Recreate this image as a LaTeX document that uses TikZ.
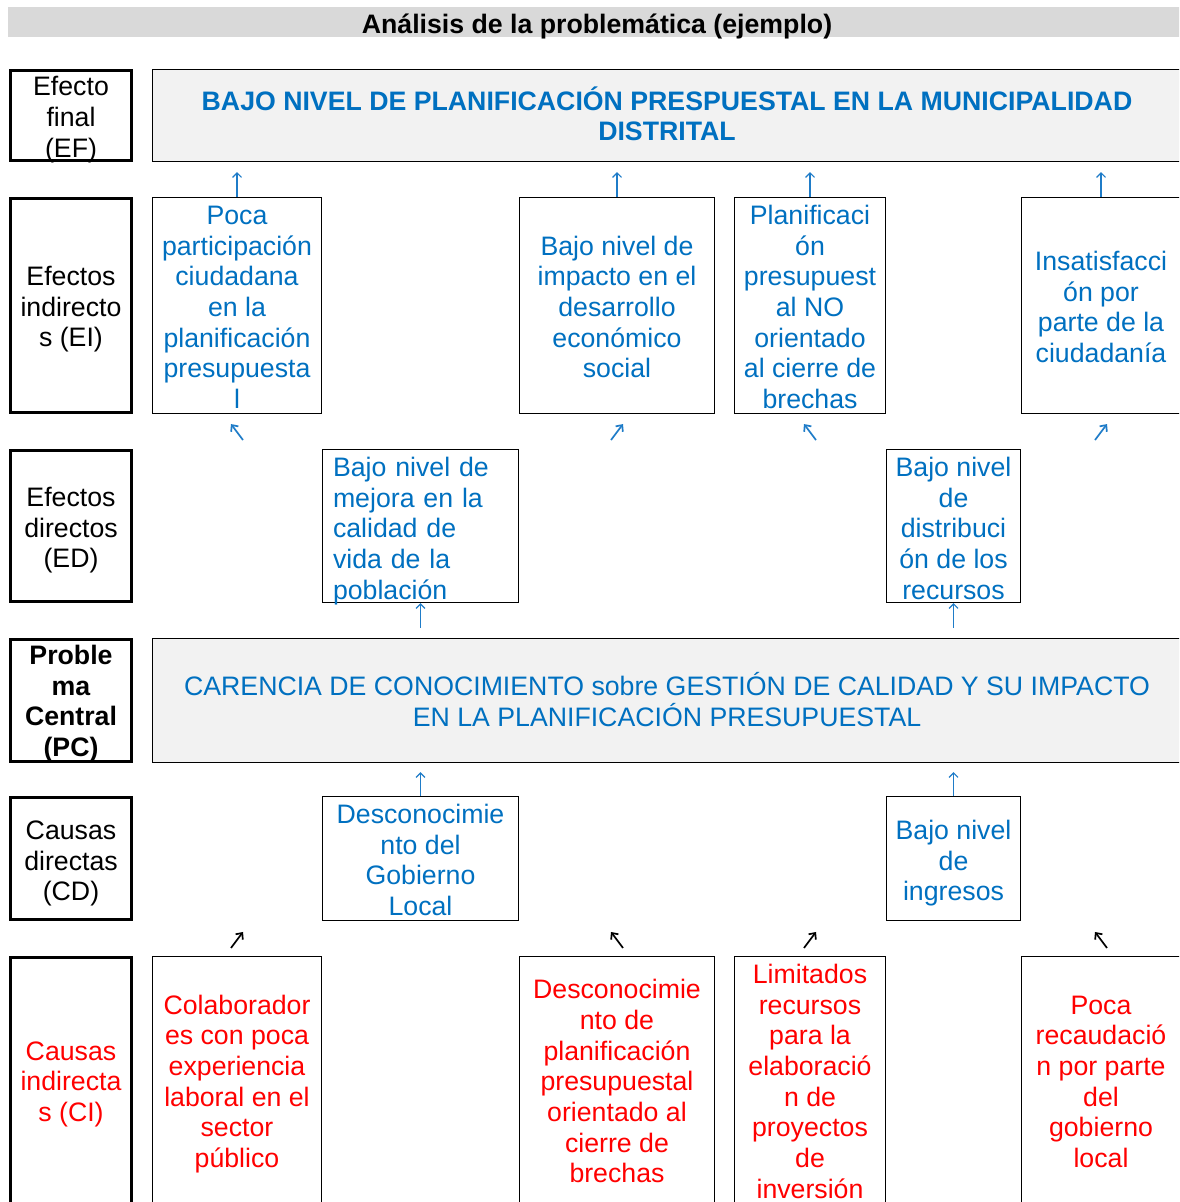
\documentclass[tikz,border=0pt]{standalone}
\usepackage{fontspec}
\setmainfont{Liberation Sans}
\usetikzlibrary{arrows.meta, positioning, calc}

\definecolor{azul}{HTML}{0070C0}
\definecolor{flecha}{HTML}{1F7CC8}
\definecolor{rojo}{HTML}{FF0000}
\definecolor{grisbar}{HTML}{D9D9D9}
\definecolor{grisbox}{HTML}{F2F2F2}

% line struts: top of first line, bottom of last line
\newcommand{\ini}[1][28pt]{\rule{0pt}{#1}}
\newcommand{\bajo}{\rule[-6pt]{0pt}{6pt}}

\begin{document}
\begin{tikzpicture}[
    x=1pt, y=-1pt,
    every node/.style={font=\fontsize{26.7}{30.7}\selectfont, align=center, inner xsep=0pt, inner ysep=-6pt},
    >={Straight Barb[length=4.5pt, width=9pt]},
    rowlabel/.style={rectangle, draw, line width=2.6pt, minimum width=121.4pt},
    box/.style={rectangle, draw, line width=1.1pt, text=azul},
    redbox/.style={box, text=rojo},
    mainbox/.style={box, fill=grisbox, minimum width=1029pt},
    titlebar/.style={rectangle, fill=grisbar, minimum width=1178pt, minimum height=30pt, font=\fontsize{26.7}{30}\selectfont\bfseries},
    uparrow/.style={->, draw=flecha, line width=1.2pt},
    diagarrow/.style={->, line width=1.7pt, >={Straight Barb[length=5pt, width=9pt]}}
]

\useasboundingbox (0,0) rectangle (1179,1202);
\clip (0,0) rectangle (1179,1202);

% Title
\node[titlebar] (titulo) at (597,22) {\ini Análisis de la problemática (ejemplo)};

% EF Section
\node[rowlabel, minimum height=90.4pt] (lef) at (71,115.5) {\ini Efecto\\final\\(EF)\bajo};
\node[mainbox, minimum height=92pt, font=\fontsize{26.7}{30.7}\selectfont\bfseries] (efmain) at (667,115.5)
  {\ini[25.7pt]BAJO NIVEL DE PLANIFICACIÓN PRESPUESTAL EN LA MUNICIPALIDAD\\DISTRITAL\bajo};

% EI Section
\node[rowlabel, minimum height=214.4pt] (lei) at (71,305.5) {\ini[27.4pt]Efectos\\indirecto\\s (EI)\bajo};
\node[box, minimum width=169pt, minimum height=216pt] (ei1) at (237,305.5)
  {\ini Poca\\participación\\ciudadana\\en la\\planificación\\presupuesta\\l\bajo};
\node[box, minimum width=195pt, minimum height=216pt] (ei2) at (617,305.5)
  {\ini Bajo nivel de\\impacto en el\\desarrollo\\económico\\social\bajo};
\node[box, minimum width=151pt, minimum height=216pt] (ei3) at (810,305.5)
  {\ini Planificaci\\ón\\presupuest\\al NO\\orientado\\al cierre de\\brechas\bajo};
\node[box, minimum width=159pt, minimum height=216pt] (ei4) at (1101,305.5)
  {\ini Insatisfacci\\ón por\\parte de la\\ciudadanía\bajo};

% ED Section
\node[rowlabel, minimum height=151.4pt] (led) at (71,526) {\ini Efectos\\directos\\(ED)\bajo};
\node[box, minimum height=153pt, text width=175pt, inner xsep=10.5pt, align=left] (ed1) at (420.5,526)
  {\ini[29.5pt]Bajo nivel de\\mejora en la\\calidad de\\vida de la\\población\bajo};
\node[box, minimum width=134pt, minimum height=153pt] (ed2) at (953.5,526)
  {\ini[29.5pt]Bajo nivel\\de\\distribuci\\ón de los\\recursos\bajo};

% PC Section
\node[rowlabel, minimum height=122.4pt, font=\fontsize{26.7}{30.7}\selectfont\bfseries] (lpc) at (71,700.5)
  {\ini[26pt]Proble\\ma\\Central\\(PC)\bajo};
\node[mainbox, minimum height=124pt] (pcmain) at (667,700.5)
  {\ini[26.7pt]CARENCIA DE CONOCIMIENTO sobre GESTIÓN DE CALIDAD Y SU IMPACTO\\EN LA PLANIFICACIÓN PRESUPUESTAL\bajo};

% CD Section
\node[rowlabel, minimum height=122.4pt] (lcd) at (71,858.5) {\ini[29pt]Causas\\directas\\(CD)\bajo};
\node[box, minimum width=196pt, minimum height=124pt] (cd1) at (420.5,858.5)
  {\ini Desconocimie\\nto del\\Gobierno\\Local\bajo};
\node[box, minimum width=134pt, minimum height=124pt] (cd2) at (953.5,858.5)
  {\ini[29pt]Bajo nivel\\de\\ingresos\bajo};

% CI Section
\node[rowlabel, minimum height=248.4pt, text=rojo] (lci) at (71,1081.5) {\ini[24.5pt]Causas\\indirecta\\s (CI)\bajo};
\node[redbox, minimum width=169pt, minimum height=250pt] (ci1) at (237,1081.5)
  {\ini[24.5pt]Colaborador\\es con poca\\experiencia\\laboral en el\\sector\\público\bajo};
\node[redbox, minimum width=195pt, minimum height=250pt] (ci2) at (617,1081.5)
  {\ini[24.5pt]Desconocimie\\nto de\\planificación\\presupuestal\\orientado al\\cierre de\\brechas\bajo};
\node[redbox, minimum width=151pt, minimum height=250pt] (ci3) at (810,1081.5)
  {\ini[24.5pt]Limitados\\recursos\\para la\\elaboració\\n de\\proyectos\\de\\inversión\bajo};
\node[redbox, minimum width=159pt, minimum height=250pt] (ci4) at (1101,1081.5)
  {\ini[24.5pt]Poca\\recaudació\\n por parte\\del\\gobierno\\local\bajo};

% Arrows up to EF
\draw[uparrow, shorten >=10pt] (ei1.north) -- (ei1.north |- efmain.south);
\draw[uparrow, shorten >=10pt] (ei2.north) -- (ei2.north |- efmain.south);
\draw[uparrow, shorten >=10pt] (ei3.north) -- (ei3.north |- efmain.south);
\draw[uparrow, shorten >=10pt] (ei4.north) -- (ei4.north |- efmain.south);

% ED -> EI (small diagonal arrows)
\draw[diagarrow, flecha] ($(ei1.south)+(6,26)$) -- ++(-12,-16);
\draw[diagarrow, flecha] ($(ei2.south)+(-6,26)$) -- ++(12,-16);
\draw[diagarrow, flecha] ($(ei3.south)+(6,26)$) -- ++(-12,-16);
\draw[diagarrow, flecha] ($(ei4.south)+(-6,26)$) -- ++(12,-16);

% ED -> PC and CD -> PC
\draw[uparrow, shorten <=10pt] (pcmain.north -| ed1.south) -- (ed1.south);
\draw[uparrow, shorten <=10pt] (pcmain.north -| ed2.south) -- (ed2.south);
\draw[uparrow, shorten >=9pt] (cd1.north) -- (cd1.north |- pcmain.south);
\draw[uparrow, shorten >=9pt] (cd2.north) -- (cd2.north |- pcmain.south);

% CI -> CD (small diagonal arrows)
\draw[diagarrow] ($(ci1.north)+(-6,-8)$) -- ++(12,-16);
\draw[diagarrow] ($(ci2.north)+(6,-8)$) -- ++(-12,-16);
\draw[diagarrow] ($(ci3.north)+(-6,-8)$) -- ++(12,-16);
\draw[diagarrow] ($(ci4.north)+(6,-8)$) -- ++(-12,-16);

\end{tikzpicture}
\end{document}
